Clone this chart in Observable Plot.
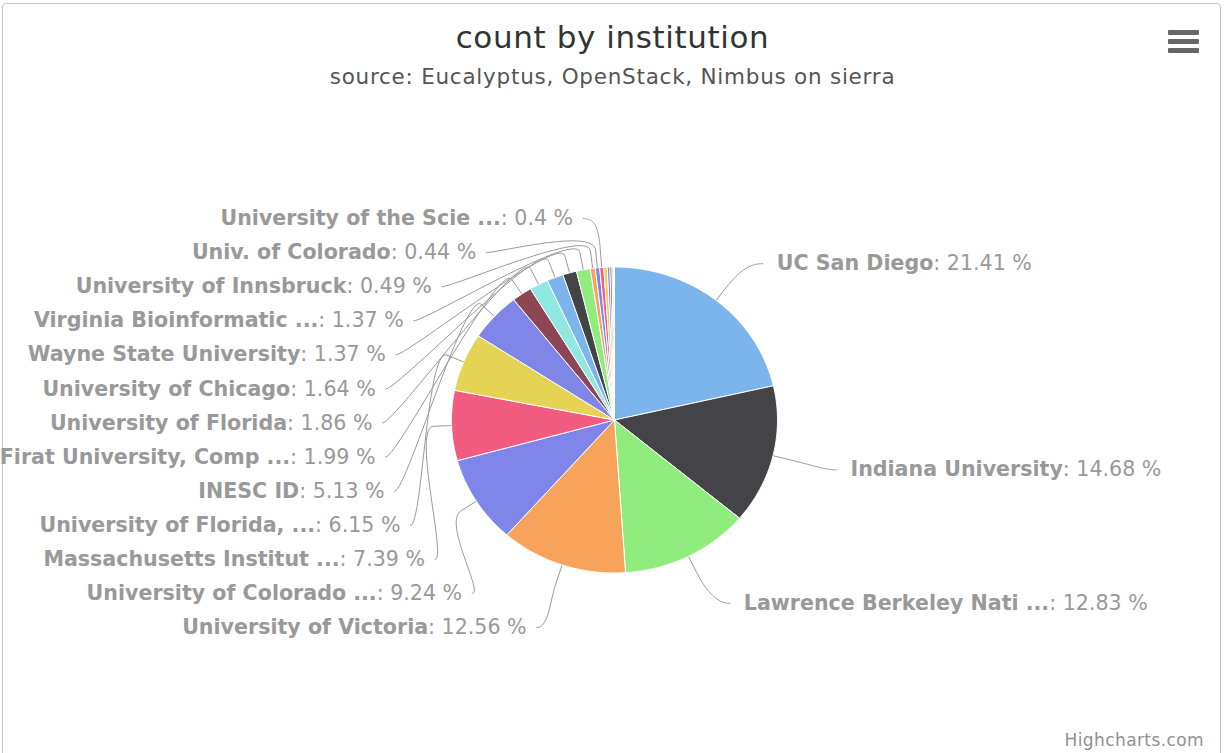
<!DOCTYPE html>
<html>
<head>
<meta charset="utf-8">
<script src="https://cdn.jsdelivr.net/npm/d3@7"></script>
<script src="https://cdn.jsdelivr.net/npm/@observablehq/plot@0.6"></script>
<style>
  html, body { margin: 0; padding: 0; background: #fff; }
  #wrap { position: relative; width: 1225px; height: 753px; overflow: hidden; font-family: "DejaVu Sans", sans-serif; }
  #frame { position: absolute; left: 2px; top: 3px; width: 1219px; height: 800px; border: 1px solid #c4c4c4; border-radius: 4px; box-sizing: border-box; }
  #chart { position: absolute; left: 0; top: 0; }
  #title { position: absolute; left: 0; width: 1225px; top: 17px; text-align: center; font-size: 31px; letter-spacing: 0.6px; color: #333; line-height: 40px; }
  #subtitle { position: absolute; left: 0; width: 1225px; top: 63px; text-align: center; font-size: 21.5px; letter-spacing: 0.75px; color: #555; line-height: 28px; }
  #credits { position: absolute; right: 21px; top: 729px; font-size: 17px; letter-spacing: 0.4px; color: #909090; line-height: 22px; }
  .bar { position: absolute; left: 1168px; width: 31px; height: 5px; background: #666; border-radius: 1px; }
</style>
</head>
<body>
<div id="wrap">
  <div id="frame"></div>
  <div id="chart"></div>
  <div id="title">count by institution</div>
  <div id="subtitle">source: Eucalyptus, OpenStack, Nimbus on sierra</div>
  <div class="bar" style="top:30px"></div>
  <div class="bar" style="top:38.5px"></div>
  <div class="bar" style="top:47.5px"></div>
  <div id="credits">Highcharts.com</div>
</div>
<script>
// ---- data ----
const institutions = [
  "UC San Diego", "Indiana University", "Lawrence Berkeley Nati ...", "University of Victoria",
  "University of Colorado ...", "Massachusetts Institut ...", "University of Florida, ...", "INESC ID",
  "Firat University, Comp ...", "University of Florida", "University of Chicago", "Wayne State University",
  "Virginia Bioinformatic ...", "University of Innsbruck", "Univ. of Colorado", "University of the Scie ...",
  "", "", "", "", ""   // tiny slices whose labels are hidden in the reference
];
const percents = [21.41, 14.68, 12.83, 12.56, 9.24, 7.39, 6.15, 5.13, 1.99, 1.86, 1.64, 1.37, 1.37, 0.49, 0.44, 0.4,
                  0.35, 0.25, 0.2, 0.15, 0.1];
const palette = ["#7cb5ec", "#434348", "#90ed7d", "#f7a35c", "#8085e9", "#f15c80", "#e4d354", "#8085e8", "#8d4653", "#91e8e1"];

// ---- layout ----
const W = 1225, H = 753;
const cx = 614, cy = 419.5, Rx = 163, Ry = 153;      // pie geometry (px)
const La = 242, Lcy = 422, Lr = 203;                  // label ellipse
const LbRight = 214, LbLeftTop = 207, LbLeftBottom = 220;
const slotBottom = 627, slotStep = 34.08;
const fontSize = 20.6;

const total = d3.sum(percents);
const toU = (px, py) => ({x: (px - cx) / Rx, y: (cy - py) / Ry});
const rad = Math.PI / 180;

let cum = 0;
const slices = percents.map((v, i) => {
  const a0 = cum / total * 360; cum += v; const a1 = cum / total * 360;
  return {i, name: institutions[i], value: v, a0, a1, mid: (a0 + a1) / 2, color: palette[i % palette.length]};
});

// slice outlines (unit circle coordinates)
const slicePts = [];
for (const s of slices) {
  const n = Math.max(2, Math.ceil((s.a1 - s.a0) / 0.5));
  slicePts.push({i: s.i, color: s.color, x: 0, y: 0});
  for (let k = 0; k <= n; k++) {
    const a = (s.a0 + (s.a1 - s.a0) * k / n) * rad;
    slicePts.push({i: s.i, color: s.color, x: Math.sin(a), y: Math.cos(a)});
  }
  slicePts.push({i: s.i, color: s.color, x: 0, y: 0});
}

// label placement
const labeled = slices.filter(s => s.name !== "");
const rightS = labeled.filter(s => s.mid < 180);
const leftS = labeled.filter(s => s.mid >= 180);
const ellX = (py, b) => La * Math.sqrt(Math.max(0, 1 - ((py - Lcy) / b) ** 2));
const labels = [];
for (const s of rightS) {
  const py = Lcy - Math.cos(s.mid * rad) * Lr;
  const px = cx + ellX(py, LbRight);
  labels.push({...s, side: "right", px, py, ...toU(px, py), text: s.name + ": " + String(s.value) + " %"});
}
leftS.forEach((s, k) => {
  const py = slotBottom - k * slotStep;
  const px = cx - ellX(py, py < Lcy ? LbLeftTop : LbLeftBottom);
  labels.push({...s, side: "left", px, py, ...toU(px, py), text: s.name + ": " + String(s.value) + " %"});
});

// connectors (soft bezier, Highcharts style)
const connPts = [];
for (const l of labels) {
  const dir = l.side === "left" ? 1 : -1;
  const a = l.mid * rad;
  const edge = [cx + Math.sin(a) * Rx, cy - Math.cos(a) * Ry];
  const p3 = [cx + Math.sin(a) * (Rx + 18), cy - Math.cos(a) * (Ry + 18)];
  const p2 = [cx + Math.sin(a) * (Rx + 40), cy - Math.cos(a) * (Ry + 40)];
  const p0 = [l.px + dir * (l.side === "left" ? 10 : 14), l.py];
  const p1 = [p0[0] + dir * 12, p0[1]];
  const N = 30;
  for (let k = 0; k <= N; k++) {
    const t = k / N, u = 1 - t;
    const bx = u*u*u*p0[0] + 3*u*u*t*p1[0] + 3*u*t*t*p2[0] + t*t*t*p3[0];
    const by = u*u*u*p0[1] + 3*u*u*t*p1[1] + 3*u*t*t*p2[1] + t*t*t*p3[1];
    connPts.push({i: l.i, ...toU(bx, by)});
  }
  connPts.push({i: l.i, ...toU(edge[0], edge[1])});
}

const chart = Plot.plot({
  width: W, height: H, margin: 0,
  style: {fontFamily: "DejaVu Sans", background: "transparent"},
  x: {domain: [-cx / Rx, (W - cx) / Rx], range: [0, W], axis: null},
  y: {domain: [cy / Ry, -(H - cy) / Ry], range: [0, H], axis: null},
  color: {type: "identity"},
  marks: [
    Plot.line(connPts, {x: "x", y: "y", z: "i", stroke: "#999", strokeWidth: 1, fill: "none", curve: "linear"}),
    Plot.line(slicePts, {x: "x", y: "y", z: "i", fill: "color", stroke: "#ffffff", strokeWidth: 1, curve: "linear"}),
    Plot.text(labels.filter(l => l.side === "right"), {x: "x", y: "y", text: "text", textAnchor: "start", fontSize, fill: "#999", className: "pielabel"}),
    Plot.text(labels.filter(l => l.side === "left"), {x: "x", y: "y", text: "text", textAnchor: "end", fontSize, fill: "#999", className: "pielabel"})
  ]
});
document.getElementById("chart").appendChild(chart);

// bold name + normal value
chart.querySelectorAll("g.pielabel text").forEach(t => {
  const s = t.textContent;
  const k = s.lastIndexOf(": ");
  const name = s.slice(0, k), rest = s.slice(k);
  t.textContent = "";
  const ns = "http://www.w3.org/2000/svg";
  const b = document.createElementNS(ns, "tspan");
  b.setAttribute("font-weight", "bold");
  b.textContent = name;
  const r = document.createElementNS(ns, "tspan");
  r.textContent = rest;
  t.appendChild(b); t.appendChild(r);
});
</script>
</body>
</html>
